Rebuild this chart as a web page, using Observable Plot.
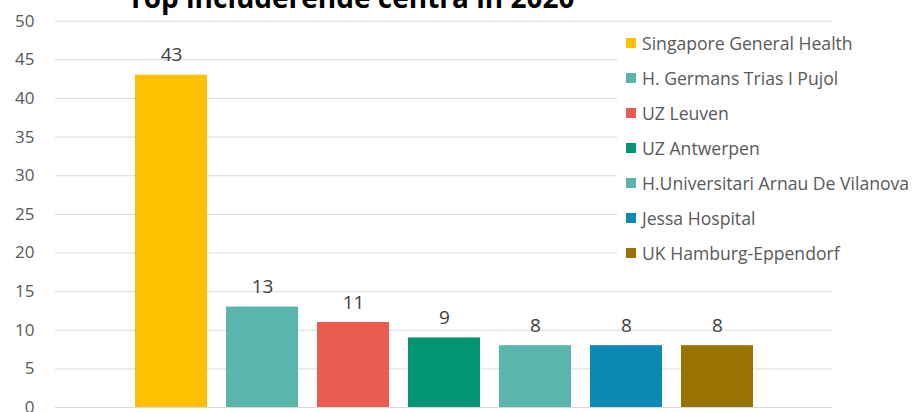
<!DOCTYPE html>
<html>
<head>
<meta charset="utf-8">
<script src="https://cdn.jsdelivr.net/npm/d3@7"></script>
<script src="https://cdn.jsdelivr.net/npm/@observablehq/plot@0.6"></script>
<style>
  html, body { margin: 0; padding: 0; background: #fff; }
  #chart { position: relative; width: 916px; height: 412px; overflow: hidden; font-family: "Open Sans", sans-serif; }
  #title { position: absolute; left: 0; width: 702px; top: -18px; text-align: center; font-weight: bold; font-size: 28px; line-height: 30px; color: #000; white-space: nowrap; }
  #legend { position: absolute; left: 617px; top: 24px; width: 299px; height: 246px; background: #fff; }
  .item { position: absolute; left: 9px; height: 20px; display: flex; align-items: center; color: #595959; font-size: 17.6px; white-space: nowrap; }
  .sw { width: 10px; height: 10px; margin-right: 6px; flex: none; }
</style>
</head>
<body>
<div id="chart">
  <div id="plot"></div>
  <div id="title">Top includerende centra in 2020</div>
  <div id="legend"></div>
</div>
<script>
const centres = ["Singapore General Health", "H. Germans Trias I Pujol", "UZ Leuven", "UZ Antwerpen", "H.Universitari Arnau De Vilanova", "Jessa Hospital", "UK Hamburg-Eppendorf"];
const counts = [43, 13, 11, 9, 8, 8, 8];
const colors = ["#FFC000", "#5AB5AC", "#EB5C50", "#039573", "#5AB5AC", "#0B89B3", "#987300"];
const yTicks = [0, 5, 10, 15, 20, 25, 30, 35, 40, 45, 50];

const data = centres.map((c, i) => ({centre: c, count: counts[i], color: colors[i]}));

const plot = Plot.plot({
  width: 916,
  height: 412,
  marginLeft: 55,
  marginRight: 84,
  marginTop: 20.7,
  marginBottom: 5,
  style: {fontFamily: "Open Sans, sans-serif", background: "#fff", overflow: "visible"},
  x: {domain: centres, paddingInner: 0.212, paddingOuter: 0.86, axis: null},
  y: {domain: [0, 50], ticks: yTicks},
  marks: [
    Plot.gridY(yTicks, {stroke: "#d9d9d9", strokeOpacity: 1, strokeWidth: 1}),
    Plot.axisY(yTicks, {tickSize: 0, tickPadding: 21, fontSize: 17, fill: "#595959", label: null}),
    Plot.barY(data, {x: "centre", y: "count", fill: "color"}),
    Plot.text(data, {x: "centre", y: "count", text: d => String(d.count), dy: -14, lineAnchor: "bottom", fontSize: 19, fill: "#404040"})
  ]
});
document.getElementById("plot").appendChild(plot);

const legend = d3.select("#legend");
centres.forEach((c, i) => {
  const row = legend.append("div").attr("class", "item").style("top", (9.3 + i * 35) + "px");
  row.append("div").attr("class", "sw").style("background", colors[i]);
  row.append("span").text(c);
});
</script>
</body>
</html>
